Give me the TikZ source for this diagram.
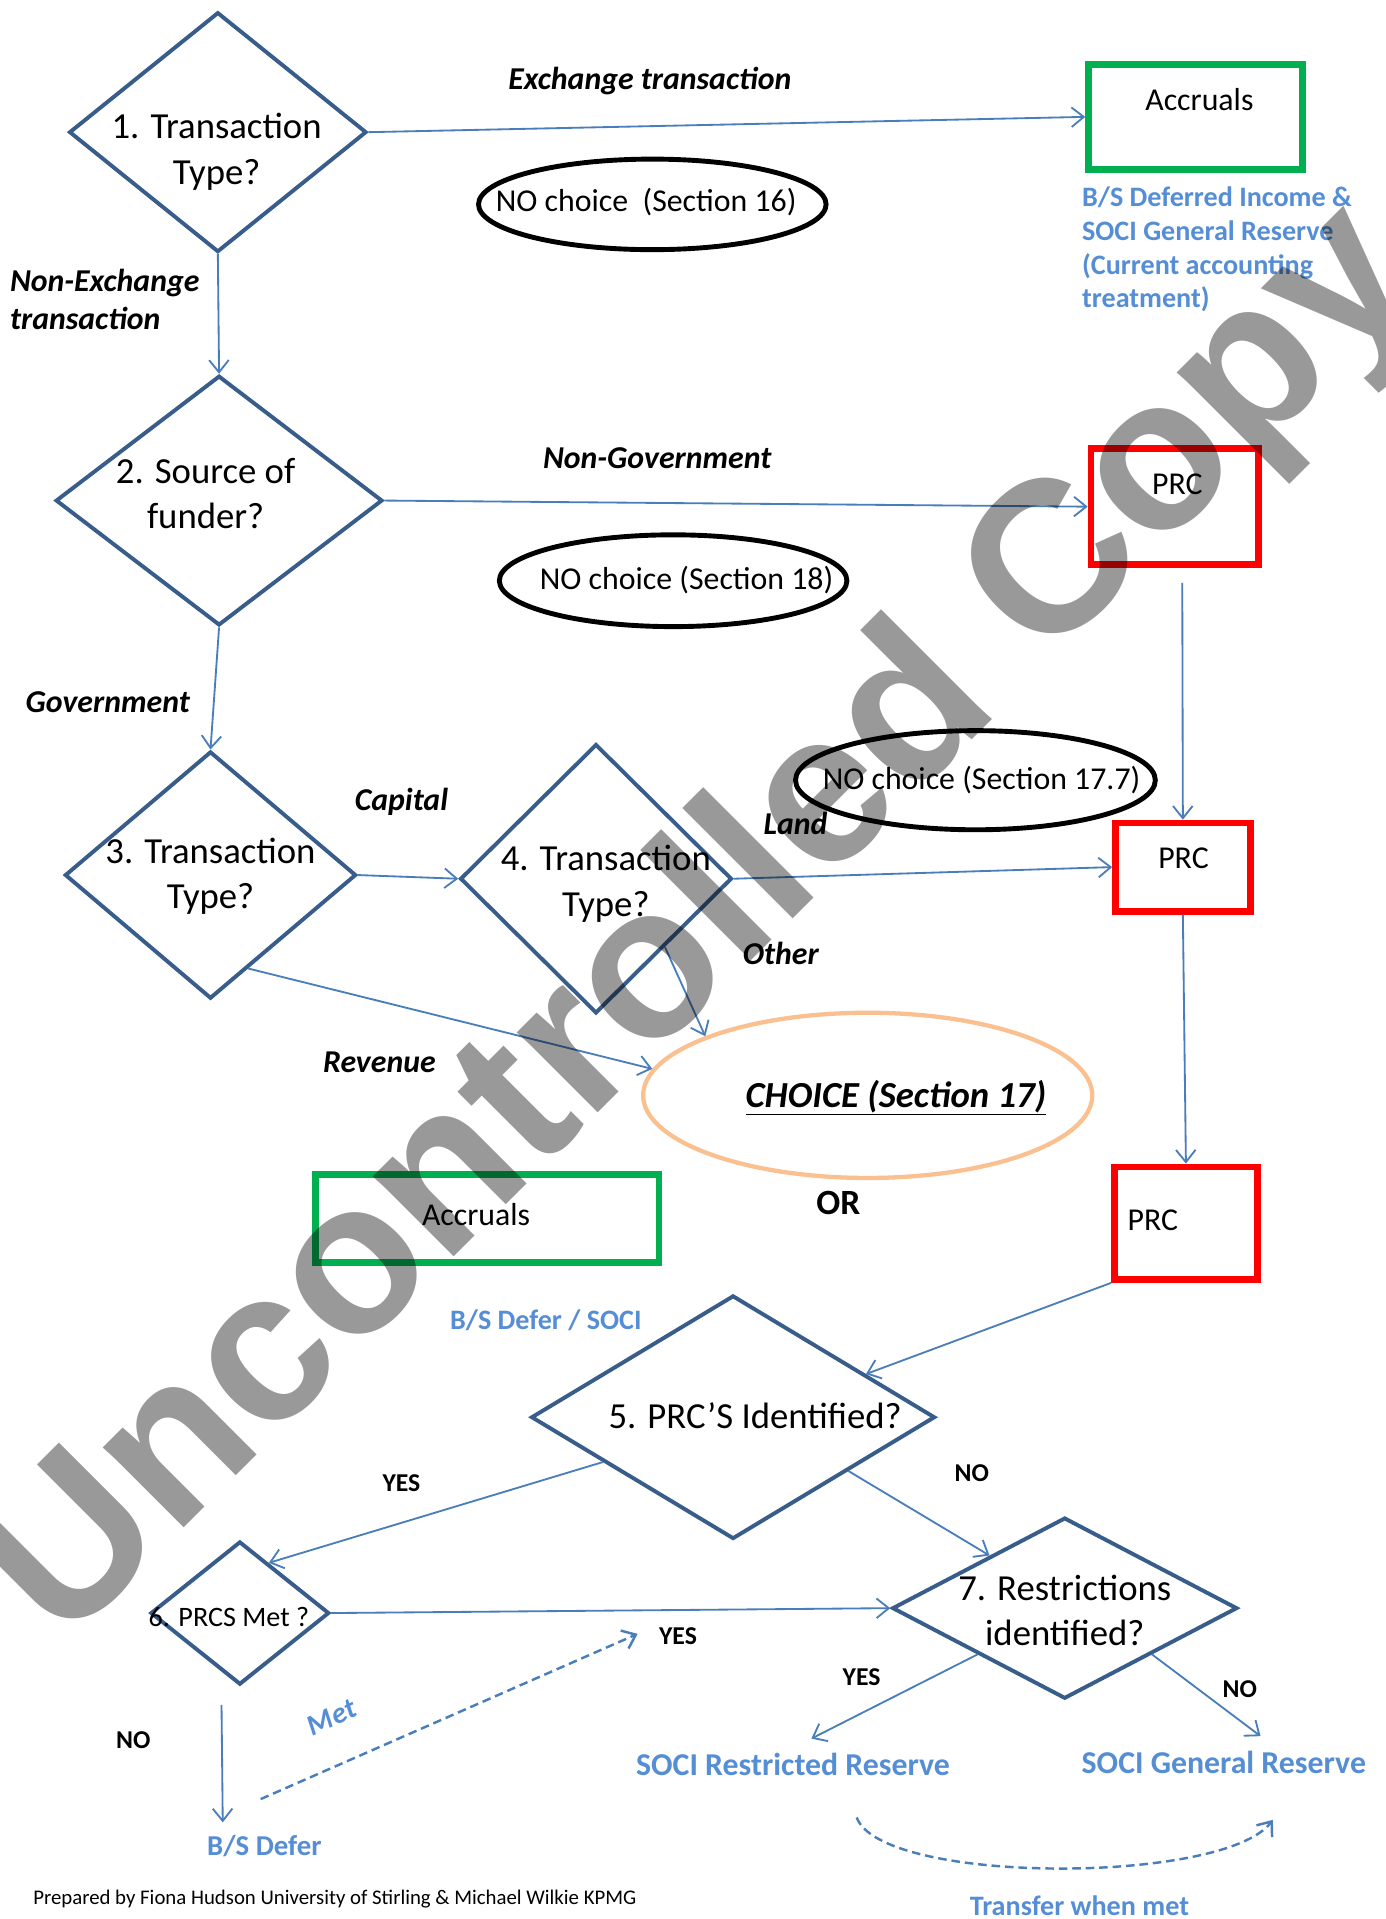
\documentclass[tikz,border=0pt]{standalone}
\usepackage{fontspec}
\setmainfont{Carlito}
\newfontfamily\wmfont{Liberation Sans}
\usetikzlibrary{shapes.geometric,arrows.meta}

\definecolor{qblue}{HTML}{385D8A}
\definecolor{lnblue}{HTML}{4A7EBB}
\definecolor{okgreen}{HTML}{00B050}
\definecolor{prcred}{HTML}{FF0000}
\definecolor{acblue}{HTML}{558ED5}
\definecolor{choiceorange}{HTML}{FAC090}

\tikzset{
  qbox/.style={diamond, draw=qblue, line width=3.2pt, inner sep=0pt},
  okbox/.style={rectangle, draw=okgreen, line width=5.5pt, inner sep=0pt},
  prcbox/.style={rectangle, draw=prcred, line width=5.5pt, inner sep=0pt},
  nobox/.style={ellipse, draw=black, line width=4pt, inner sep=0pt},
  qtext/.style={align=center, inner sep=0pt, font=\fontsize{30}{37}\selectfont},
  btext/.style={inner sep=0pt, font=\fontsize{26}{31}\selectfont},
  route/.style={inner sep=0pt, font=\fontsize{26}{31}\selectfont\bfseries\itshape},
  yn/.style={inner sep=0pt, font=\fontsize{21}{25}\selectfont\bfseries},
  acct/.style={inner sep=0pt, text=acblue, font=\fontsize{26}{31}\selectfont\bfseries},
  conn/.style={draw=lnblue, line width=1.5pt, -{Straight Barb[length=10pt,width=16pt]}},
}

\begin{document}
\begin{tikzpicture}[x=1pt,y=-1pt]
\useasboundingbox (0,0) rectangle (1132,1568);
\fill[white] (0,0) rectangle (1132,1568);

% questions
\draw (178,108) node[qbox, minimum width=243pt, minimum height=196pt] (d1) {};
\draw (179,409) node[qbox, minimum width=267pt, minimum height=204pt] (d2) {};
\draw (172,715) node[qbox, minimum width=238pt, minimum height=202pt] (d3) {};
\draw (487,718) node[qbox, minimum width=222pt, minimum height=220pt] (d4) {};
\draw (599,1158) node[qbox, minimum width=330pt, minimum height=199pt] (d5) {};
\draw (196,1318) node[qbox, minimum width=146pt, minimum height=117pt] (d6) {};
\draw (870,1314) node[qbox, minimum width=282pt, minimum height=148pt] (d7) {};

\draw (177,124) node[qtext] (t1) {1. Transaction\\Type?};
\draw (168,403) node[qtext] (t2) {2. Source of\\funder?};
\draw (172,716) node[qtext] (t3) {3. Transaction\\Type?};
\draw (495,722) node[qtext] (t4) {4. Transaction\\Type?};
\draw (617,1157) node[qtext] (t5) {5. PRC’S Identified?};
\draw (187,1321) node[qtext, font=\fontsize{23}{27}\selectfont] (t6) {6. PRCS Met ?};
\draw (870,1316) node[qtext] (t7) {7. Restrictions\\identified?};

% outcomes
\draw (977,95.5) node[okbox, minimum width=175pt, minimum height=86pt] (acc1) {};
\draw (398,995.5) node[okbox, minimum width=281pt, minimum height=72pt] (acc2) {};
\draw (960,414) node[prcbox, minimum width=137pt, minimum height=95pt] (prc1) {};
\draw (966.5,708.5) node[prcbox, minimum width=110pt, minimum height=72pt] (prc2) {};
\draw (969,999.5) node[prcbox, minimum width=117pt, minimum height=92pt] (prc3) {};

\draw (980,81) node[btext] (acc1t) {Accruals};
\draw (389,992) node[btext] (acc2t) {Accruals};
\draw (962,396) node[btext] (prc1t) {PRC};
\draw (967,701) node[btext] (prc2t) {PRC};
\draw (942,997) node[btext] (prc3t) {PRC};

% sections
\draw (533,167) node[nobox, minimum width=284pt, minimum height=74pt] (nc16) {};
\draw (550,474.5) node[nobox, minimum width=284pt, minimum height=75pt] (nc18) {};
\draw (797,637.5) node[nobox, minimum width=294pt, minimum height=81pt] (nc177) {};
\draw (709,895) node[ellipse, draw=choiceorange, line width=3.5pt, minimum width=367pt, minimum height=135pt] (choice) {};

\draw (528,165) node[btext] (nc16t) {NO choice\ \ (Section 16)};
\draw (561,474) node[btext] (nc18t) {NO choice (Section 18)};
\draw (802,637) node[btext] (nc177t) {NO choice (Section 17.7)};
\draw (732,897) node[inner sep=0pt, font=\fontsize{30}{36}\selectfont\bfseries\itshape] (choicet) {\underline{CHOICE (Section 17)}};
\draw (685,983) node[inner sep=0pt, font=\fontsize{29}{34}\selectfont\bfseries] (or) {OR};

% route labels
\draw (531,66) node[route] (lexch) {Exchange transaction};
\draw (8,245) node[route, anchor=west, align=left] (lnonex) {Non-Exchange\\transaction};
\draw (537,374) node[route] (lnongov) {Non-Government};
\draw (88,574) node[route] (lgov) {Government};
\draw (328,655) node[route] (lcap) {Capital};
\draw (650,673) node[route] (lland) {Land};
\draw (638,779) node[route] (lother) {Other};
\draw (310,868) node[route] (lrev) {Revenue};
\draw (328,1212) node[yn] (yes5) {YES};
\draw (794,1204) node[yn] (no5) {NO};
\draw (554,1337) node[yn] (yes6) {YES};
\draw (109,1422) node[yn] (no6) {NO};
\draw (704,1370) node[yn] (yes7) {YES};
\draw (1013,1380) node[yn] (no7) {NO};

% accounting
\draw (884,204) node[acct, anchor=west, align=left, font=\fontsize{23}{27.5}\selectfont\bfseries] (acc1n) {B/S Deferred Income \&\\SOCI General Reserve\\(Current accounting\\treatment)};
\draw (446,1079) node[acct, font=\fontsize{23}{27}\selectfont\bfseries] (acc2n) {B/S Defer / SOCI};
\draw (216,1508) node[acct, font=\fontsize{23.5}{27}\selectfont\bfseries] (bsd) {B/S Defer};
\draw (648,1442) node[acct] (socir) {SOCI Restricted Reserve};
\draw (1000,1440) node[acct] (socig) {SOCI General Reserve};
\draw (882,1557) node[acct, font=\fontsize{23}{27}\selectfont\bfseries] (tfr) {Transfer when met};
\draw (271,1403) node[acct, rotate=25, font=\fontsize{24}{28}\selectfont\bfseries\itshape] (met) {Met};
\draw (27,1552) node[anchor=west, inner sep=0pt, font=\fontsize{17}{20}\selectfont] (credit) {Prepared by Fiona Hudson University of Stirling \& Michael Wilkie KPMG};

\coordinate (metA) at (213,1470);
\coordinate (metB) at (521,1335);
\coordinate (tfrA) at (700,1485);
\coordinate (tfrB) at (1040,1487);

% arrows
\draw[conn] (d1.east) -- (acc1.west);
\draw[conn] (d1.south) -- (d2.north);
\draw[conn] (d2.east) -- (prc1.west);
\draw[conn] ([xshift=6pt,yshift=-12pt]prc1.south) -- (prc2.north);
\draw[conn] (d2.south) -- (d3.north);
\draw[conn] (d3.east) -- (d4.west);
\draw[conn] (d4.east) -- (prc2.west);
\draw[conn] (d4.south east) -- (choice.160);
\draw[conn] (d3.-68) -- (choice.173);
\draw[conn] (prc2.south) -- (prc3.north);
\draw[conn] (prc3.south west) -- (d5.18);
\draw[conn] (d5.199) -- (d6.60);
\draw[conn] (d5.-25) -- (d7.145);
\draw[conn] (d6.east) -- (d7.west);
\draw[conn] ([xshift=-15pt,yshift=-15pt]d6.south) -- ([xshift=-34pt,yshift=10pt]bsd.north);
\draw[conn, dash pattern=on 7pt off 4pt, line width=2pt] (metA) -- (metB);
\draw[conn] (d7.south west) -- ([xshift=15pt,yshift=12pt]socir.north);
\draw[conn] (d7.south east) -- ([xshift=30pt,yshift=12pt]socig.north);
\draw[conn, dash pattern=on 7pt off 4pt, line width=2pt] (tfrA) .. controls (720,1540) and (1000,1540) .. (tfrB);

% watermark
\draw (576,758) node[rotate=45, inner sep=0pt, text opacity=0.4, font=\wmfont\bfseries\fontsize{176}{176}\selectfont] (wm) {Uncontrolled Copy};
\end{tikzpicture}
\end{document}
